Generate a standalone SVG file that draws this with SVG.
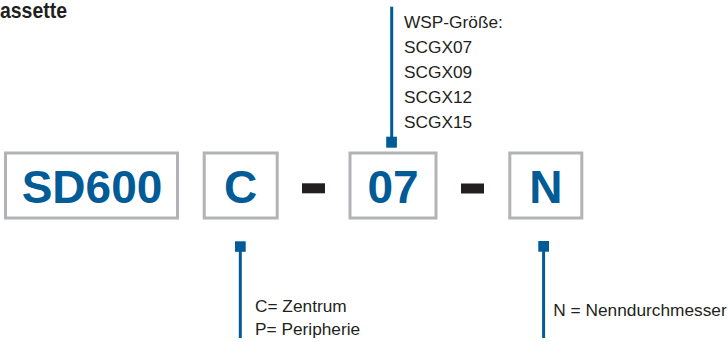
<svg xmlns="http://www.w3.org/2000/svg" width="728" height="342" viewBox="0 0 728 342">
<style>
.box{fill:#ffffff;stroke:#b1b3b6;stroke-width:3}
.code{font-family:"Liberation Sans",Arial,sans-serif;font-weight:bold;font-size:46px;fill:#005b96;text-anchor:middle}
.lbl{font-family:"Liberation Sans",Arial,sans-serif;font-size:17.3px;fill:#231f20}
.ttl{font-family:"Liberation Sans",Arial,sans-serif;font-weight:bold;font-size:22px;fill:#231f20}
.dash{fill:#231f20}
.ln{stroke:#005b96;stroke-width:3;fill:none}
.sq{fill:#005b96}
</style>
<text class="ttl" x="0" y="18" textLength="67" lengthAdjust="spacingAndGlyphs">assette</text>
<g id="node-sd600">
<rect class="box" x="5.5" y="153" width="172" height="65"/>
<text class="code" x="92" y="203.3">SD600</text>
</g>
<g id="node-c">
<rect class="box" x="204.2" y="153" width="73" height="65"/>
<text class="code" x="240.5" y="203.3">C</text>
</g>
<g id="node-dash1">
<rect class="dash" x="302" y="183.3" width="23" height="10"/>
</g>
<g id="node-07">
<rect class="box" x="350" y="153" width="86" height="65"/>
<text class="code" x="393" y="203.3">07</text>
</g>
<g id="node-dash2">
<rect class="dash" x="461" y="183.5" width="23" height="10"/>
</g>
<g id="node-n">
<rect class="box" x="509.8" y="153" width="72" height="65"/>
<text class="code" x="545.8" y="203.3">N</text>
</g>
<g id="connectors">
<line class="ln" x1="391.7" y1="6.7" x2="391.7" y2="140"/>
<rect class="sq" x="386.2" y="136.7" width="10.7" height="11"/>
<line class="ln" x1="240.3" y1="248" x2="240.3" y2="338"/>
<rect class="sq" x="235" y="241.3" width="10.7" height="10.5"/>
<line class="ln" x1="543.6" y1="248" x2="543.6" y2="338"/>
<rect class="sq" x="538.3" y="241" width="10.7" height="10.7"/>
</g>
<g id="label-wsp">
<text class="lbl" x="404" y="28.3">WSP-Größe:</text>
<text class="lbl" x="404" y="53.3">SCGX07</text>
<text class="lbl" x="404" y="78.3">SCGX09</text>
<text class="lbl" x="404" y="103.3">SCGX12</text>
<text class="lbl" x="404" y="128.3">SCGX15</text>
</g>
<g id="label-c">
<text class="lbl" x="255" y="311.7">C= Zentrum</text>
<text class="lbl" x="255" y="335">P= Peripherie</text>
</g>
<g id="label-n">
<text class="lbl" x="553.3" y="315.7">N = Nenndurchmesser</text>
</g>
</svg>
